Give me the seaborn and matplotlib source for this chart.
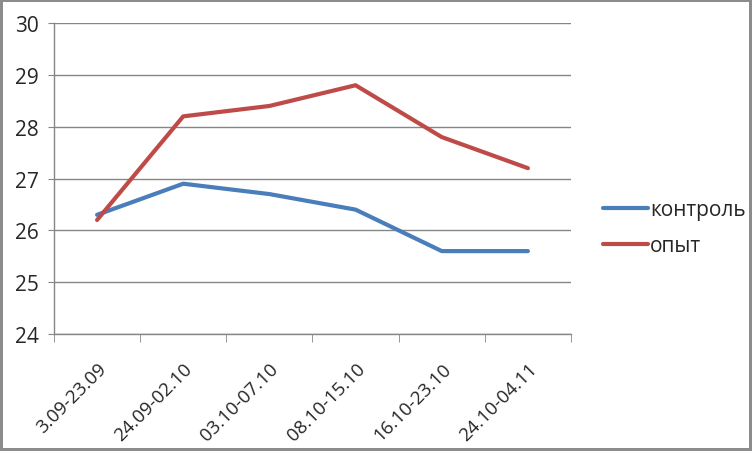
import pandas as pd
import matplotlib
matplotlib.use("Agg")
import matplotlib.pyplot as plt
import seaborn as sns
from matplotlib.ticker import FixedLocator

periods = ["3.09-23.09", "24.09-02.10", "03.10-07.10", "08.10-15.10", "16.10-23.10", "24.10-04.11"]
kontrol = [26.3, 26.9, 26.7, 26.4, 25.6, 25.6]
opyt = [26.2, 28.2, 28.4, 28.8, 27.8, 27.2]

# длинный формат для seaborn
df = pd.DataFrame({
    "period": periods * 2,
    "value": kontrol + opyt,
    "group": ["контроль"] * len(periods) + ["опыт"] * len(periods),
})

sns.set_style("white")
plt.rcParams["font.family"] = ["Open Sans", "DejaVu Sans"]

fig = plt.figure(figsize=(7.52, 4.52), dpi=100)
fig.patch.set_edgecolor("#8c8c8c")
fig.patch.set_linewidth(3)
ax = fig.add_axes([0.0718, 0.2588, 0.6875, 0.688])

sns.lineplot(data=df, x="period", y="value", hue="group",
             palette=["#4A7EBB", "#BE4B48"], linewidth=3, ax=ax, sort=False)

ax.set_xlim(-0.5, len(periods) - 0.5)
ax.set_ylim(24, 30)
ax.set_yticks(range(24, 31))
ax.yaxis.grid(True, color="#868686", linewidth=1)
ax.set_axisbelow(True)
ax.set_xlabel("")
ax.set_ylabel("")

for s in ["top", "right"]:
    ax.spines[s].set_visible(False)
for s in ["left", "bottom"]:
    ax.spines[s].set_color("#868686")
    ax.spines[s].set_linewidth(1)

ax.set_xticks(range(len(periods)))
ax.set_xticklabels(periods, rotation=45, ha="right", rotation_mode="anchor", fontsize=13.5)
ax.tick_params(axis="x", which="major", length=0, pad=18)
ax.xaxis.set_minor_locator(FixedLocator([i - 0.5 for i in range(len(periods) + 1)]))
ax.tick_params(axis="x", which="minor", length=6, color="#868686", bottom=True)
ax.tick_params(axis="y", length=4, color="#868686", left=True, labelsize=15, pad=7)

handles, labels = ax.get_legend_handles_labels()
ax.legend(handles, labels, loc="center left", bbox_to_anchor=(0.802, 0.494),
          bbox_transform=fig.transFigure, frameon=False, fontsize=15,
          handlelength=2.15, handletextpad=0.1, labelspacing=0.72,
          borderpad=0, borderaxespad=0)

fig.savefig("out.png", dpi=100, edgecolor=fig.get_edgecolor())
